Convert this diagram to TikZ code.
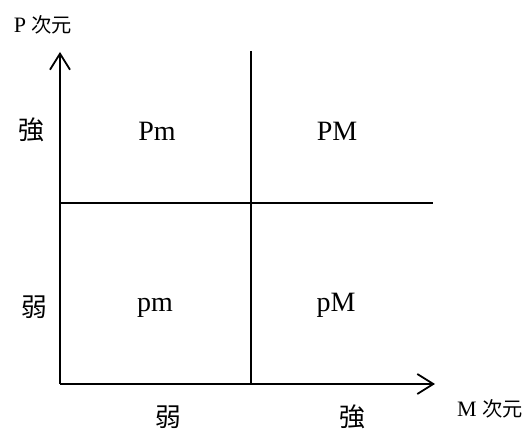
\documentclass[tikz,border=0pt]{standalone}
\usepackage{fontspec}
\setmainfont{Liberation Serif}
\newfontfamily\cjk{Noto Sans CJK JP}[Scale=0.92]
\usetikzlibrary{arrows.meta}

\tikzset{
  axis/.style={line width=1.8pt, -{Straight Barb[length=16pt,width=20pt,line width=1.8pt]}},
  divider/.style={line width=1.8pt},
  cell/.style={anchor=base, inner sep=0pt, font=\fontsize{28}{32}\selectfont},
  tick/.style={inner sep=0pt, font=\cjk\fontsize{28}{32}\selectfont},
  axlabel/.style={anchor=base, inner sep=0pt, font=\fontsize{22}{26}\selectfont}
}

\begin{document}
\begin{tikzpicture}[x=1pt, y=-1pt]
\useasboundingbox (0,0) rectangle (531,430);
% axes
\coordinate (origin) at (60,384);
\coordinate (ptip) at (60,52);
\coordinate (mtip) at (435,384);
\draw[axis] (origin) -- (ptip);
\draw[axis] (origin) -- (mtip);
% dividers
\coordinate (vtop) at (251,51);
\coordinate (vbot) at (251,384);
\coordinate (hleft) at (60,203);
\coordinate (hright) at (433,203);
\draw[divider] (vtop) -- (vbot);
\draw[divider] (hleft) -- (hright);
% axis names
\node[axlabel] (pname) at (43,33) {P {\cjk 次元}};
\node[axlabel] (mname) at (490,417) {M {\cjk 次元}};
% scale words
\node[tick] (pstrong) at (31,130) {強};
\node[tick] (pweak) at (34,307) {弱};
\node[tick] (mweak) at (168,417) {弱};
\node[tick] (mstrong) at (352,417) {強};
% quadrants
\node[cell] (Pm) at (157,141) {Pm};
\node[cell] (PM) at (337,141) {PM};
\node[cell] (pm) at (155,312) {pm};
\node[cell] (pM) at (336,312) {pM};
\end{tikzpicture}
\end{document}
